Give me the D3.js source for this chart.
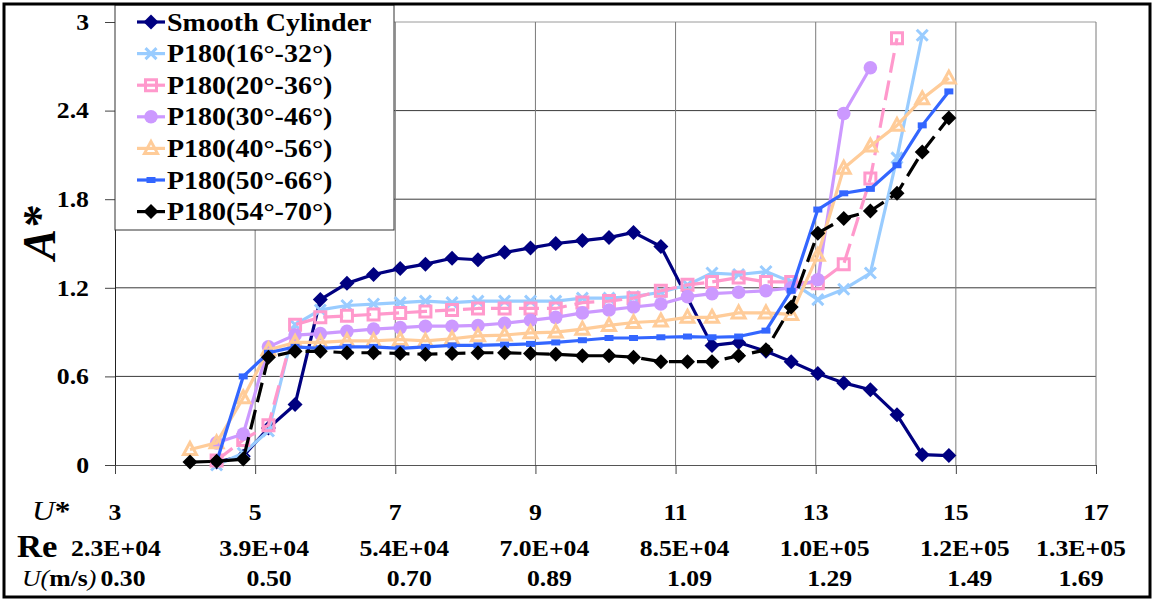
<!DOCTYPE html>
<html>
<head>
<meta charset="utf-8">
<script src="https://cdn.jsdelivr.net/npm/d3@7"></script>
<style>
  html, body { margin: 0; padding: 0; background: #fff; }
  svg { display: block; }
  text { font-family: "Liberation Serif", "Times New Roman", serif; }
</style>
</head>
<body>
<svg id="chart" width="1154" height="602"></svg>
<script>
// Reduced velocity of each measured run (shared by every series)
const uStar = [4.07, 4.45, 4.83, 5.19, 5.57, 5.93, 6.31, 6.69, 7.07, 7.43,
               7.81, 8.18, 8.56, 8.93, 9.29, 9.67, 10.05, 10.40, 10.79, 11.17,
               11.52, 11.90, 12.29, 12.65, 13.03, 13.40, 13.78, 14.16, 14.52, 14.90];

// Amplitude ratio A* per run (null = not measured)
const smoothCylinder = [null, 0.02, 0.06, 0.25, 0.41, 1.12, 1.23, 1.29, 1.33, 1.36,
                        1.40, 1.39, 1.44, 1.47, 1.50, 1.52, 1.54, 1.575, 1.48, null,
                        0.81, 0.83, 0.77, 0.70, 0.62, 0.556, 0.51, 0.34, 0.07, 0.064];
const p180_16_32 = [null, 0.00, 0.08, 0.23, 0.95, 1.05, 1.08, 1.09, 1.10, 1.11,
                    1.10, 1.11, 1.11, 1.11, 1.11, 1.13, 1.13, 1.14, 1.17, 1.22,
                    1.30, 1.29, 1.31, 1.24, 1.12, 1.19, 1.30, 2.08, 2.91, null];
const p180_20_36 = [null, 0.03, 0.17, 0.27, 0.95, 1.00, 1.01, 1.02, 1.03, 1.04,
                    1.05, 1.06, 1.06, 1.06, 1.06, 1.10, 1.11, 1.13, 1.18, 1.22,
                    1.24, 1.27, 1.24, 1.24, 1.23, 1.36, 1.94, 2.89, null, null];
const p180_30_46 = [null, 0.15, 0.21, 0.80, 0.88, 0.89, 0.905, 0.92, 0.93, 0.94,
                    0.94, 0.945, 0.96, 0.98, 1.00, 1.03, 1.05, 1.07, 1.09, 1.14,
                    1.16, 1.17, 1.18, 1.20, 1.255, 2.38, 2.69, null, null, null];
const p180_40_56 = [0.105, 0.15, 0.455, 0.78, 0.83, 0.83, 0.84, 0.84, 0.85, 0.84,
                    0.855, 0.875, 0.88, 0.895, 0.90, 0.92, 0.945, 0.965, 0.975, 1.00,
                    1.00, 1.03, 1.03, 1.02, 1.42, 2.01, 2.16, 2.30, 2.48, 2.62];
const p180_50_66 = [null, 0.02, 0.60, 0.76, 0.80, 0.79, 0.80, 0.80, 0.79, 0.80,
                    0.81, 0.81, 0.815, 0.82, 0.83, 0.845, 0.86, 0.86, 0.865, 0.87,
                    0.865, 0.87, 0.91, 1.18, 1.73, 1.84, 1.87, 2.03, 2.30, 2.53];
const p180_54_70 = [0.02, 0.025, 0.04, 0.73, 0.77, 0.77, 0.76, 0.76, 0.755, 0.75,
                    0.755, 0.76, 0.76, 0.755, 0.75, 0.74, 0.74, 0.73, 0.70, 0.70,
                    0.70, 0.74, 0.78, 1.07, 1.57, 1.67, 1.72, 1.84, 2.12, 2.35];

const seriesNames = ["Smooth Cylinder", "P180(16°-32°)", "P180(20°-36°)", "P180(30°-46°)",
                     "P180(40°-56°)", "P180(50°-66°)", "P180(54°-70°)"];
const seriesValues = [smoothCylinder, p180_16_32, p180_20_36, p180_30_46,
                      p180_40_56, p180_50_66, p180_54_70];

// Axis ticks and the secondary scales printed under U*
const uTicks = [3, 5, 7, 9, 11, 13, 15, 17];
const reLabels = ["2.3E+04", "3.9E+04", "5.4E+04", "7.0E+04", "8.5E+04", "1.0E+05", "1.2E+05", "1.3E+05"];
const velLabels = ["0.30", "0.50", "0.70", "0.89", "1.09", "1.29", "1.49", "1.69"];
const aTicks = [0, 0.6, 1.2, 1.8, 2.4, 3];

// Styling per series
const styles = [
  { color: "#000080", marker: "diamond", dash: null },
  { color: "#99CCFF", marker: "cross", dash: null },
  { color: "#FF99CC", marker: "square", dash: "20,8" },
  { color: "#CC99FF", marker: "circle", dash: null },
  { color: "#FFCC99", marker: "triangle", dash: null },
  { color: "#3366FF", marker: "dash", dash: null },
  { color: "#000000", marker: "diamond", dash: "20,8" }
];

const svg = d3.select("#chart");
const W = 1154, H = 602;
const plot = { left: 115, right: 1096, top: 22, bottom: 465 };
const SX = 1.12; // horizontal stretch of the printed type

const x = d3.scaleLinear().domain([3, 17]).range([plot.left, plot.right]);
const y = d3.scaleLinear().domain([0, 3]).range([plot.bottom, plot.top]);

svg.append("rect").attr("width", W).attr("height", H).attr("fill", "#fff");

// Grid
const grid = svg.append("g");
grid.selectAll("line.h").data(aTicks.filter(d => d > 0)).join("line")
  .attr("x1", plot.left).attr("x2", plot.right)
  .attr("y1", d => y(d)).attr("y2", d => y(d))
  .attr("stroke", d => d === 3 ? "#9a9a9a" : "#3a3a3a").attr("stroke-width", 1);
grid.selectAll("line.v").data(uTicks.filter(d => d > 3)).join("line")
  .attr("x1", d => x(d)).attr("x2", d => x(d))
  .attr("y1", plot.top).attr("y2", plot.bottom)
  .attr("stroke", "#7a7a7a").attr("stroke-width", 1);

// Axes
const yAxis = svg.append("g").attr("transform", `translate(${plot.left},0)`)
  .call(d3.axisLeft(y).tickValues(aTicks).tickSize(10).tickPadding(24)
        .tickFormat(d => d === 0 ? "0" : d3.format("~g")(d)));
yAxis.select(".domain").attr("stroke", "#222");
yAxis.selectAll(".tick line").attr("stroke", "#444");
yAxis.selectAll(".tick text")
  .attr("font-size", 23).attr("font-weight", "bold").attr("fill", "#000")
  .attr("transform", `scale(${SX},1)`)
  .attr("x", -26 / SX);

const xAxis = svg.append("g").attr("transform", `translate(0,${plot.bottom})`)
  .call(d3.axisBottom(x).tickValues(uTicks).tickSize(9).tickFormat(""));
xAxis.select(".domain").attr("stroke", "#555");
xAxis.selectAll(".tick line").attr("stroke", "#444");

// Series lines and markers
const line = d3.line().x(d => x(d.u)).y(d => y(d.a));

function markerPath(kind) {
  switch (kind) {
    case "diamond": return "M0,-7.5L7.5,0L0,7.5L-7.5,0Z";
    case "cross": return "M-5.5,-5.5L5.5,5.5M-5.5,5.5L5.5,-5.5";
    case "square": return "M-5.5,-5.5H5.5V5.5H-5.5Z";
    case "triangle": return "M0,-7L6.5,5H-6.5Z";
    case "dash": return "M-4.5,-3H4.5V3H-4.5Z";
    default: return "";
  }
}

function drawMarker(g, kind, color) {
  if (kind === "circle") {
    g.append("circle").attr("r", 6.8).attr("fill", color);
  } else if (kind === "diamond" || kind === "dash") {
    g.append("path").attr("d", markerPath(kind)).attr("fill", color);
  } else {
    g.append("path").attr("d", markerPath(kind)).attr("fill", "none")
      .attr("stroke", color).attr("stroke-width", 3);
  }
}

const seriesLayer = svg.append("g");
seriesValues.forEach((vals, i) => {
  const st = styles[i];
  const pts = uStar.map((u, k) => ({ u, a: vals[k] })).filter(p => p.a !== null);
  const g = seriesLayer.append("g");
  g.append("path").datum(pts).attr("d", line)
    .attr("fill", "none").attr("stroke", st.color).attr("stroke-width", 3.2)
    .attr("stroke-linejoin", "round")
    .attr("stroke-dasharray", st.dash);
  pts.forEach(p => {
    const m = g.append("g").attr("transform", `translate(${x(p.u)},${y(p.a)})`);
    drawMarker(m, st.marker, st.color);
  });
});

// Legend
const lg = svg.append("g");
lg.append("rect").attr("x", plot.left).attr("y", 5).attr("width", 279).attr("height", 225)
  .attr("fill", "#fff").attr("stroke", "#333").attr("stroke-width", 1);
seriesNames.forEach((name, i) => {
  const st = styles[i];
  const cy = 22 + i * 31.6;
  lg.append("line").attr("x1", 137).attr("x2", 165).attr("y1", cy).attr("y2", cy)
    .attr("stroke", st.color).attr("stroke-width", 3.2);
  const m = lg.append("g").attr("transform", `translate(151,${cy})`);
  drawMarker(m, st.marker, st.color);
  lg.append("text").attr("transform", `translate(167,${cy + 8.5}) scale(${SX},1)`)
    .attr("font-size", 25).attr("font-weight", "bold").text(name);
});

// Bottom label rows
const rows = svg.append("g");
function label(parent, tx, ty, size, anchor) {
  return parent.append("text")
    .attr("transform", `translate(${tx},${ty}) scale(${SX},1)`)
    .attr("font-size", size).attr("font-weight", "bold")
    .attr("text-anchor", anchor || "middle");
}
uTicks.forEach((u, i) => {
  label(rows, x(u), 520, 23).text(String(u));
  const off = i === 0 ? 1 : (i === uTicks.length - 1 ? -15 : 9);
  label(rows, x(u) + off, 556, 23).text(reLabels[i]);
  const off2 = i === 0 ? 8 : (i === uTicks.length - 1 ? -15 : 14);
  label(rows, x(u) + off2, 586, 23).text(velLabels[i]);
});

// Row titles
const uStarTitle = label(rows, 32, 520, 28, "start").attr("font-weight", "normal");
uStarTitle.append("tspan").attr("font-style", "italic").text("U");
uStarTitle.append("tspan").attr("font-weight", "bold").text("*");
label(rows, 17, 557, 31, "start").text("Re");
const velTitle = label(rows, 22, 586, 23, "start").attr("font-weight", "normal");
velTitle.append("tspan").attr("font-style", "italic").text("U(");
velTitle.append("tspan").attr("font-weight", "bold").text("m/s");
velTitle.append("tspan").attr("font-style", "italic").text(")");

// Vertical axis title
svg.append("text")
  .attr("transform", "translate(55,233) rotate(-90)")
  .attr("text-anchor", "middle")
  .attr("font-size", 46).attr("font-weight", "bold").attr("font-style", "italic")
  .text("A*");

// Outer frame
svg.append("rect").attr("x", 4).attr("y", 4).attr("width", 1146).attr("height", 593)
  .attr("fill", "none").attr("stroke", "#000").attr("stroke-width", 3);
</script>
</body>
</html>
